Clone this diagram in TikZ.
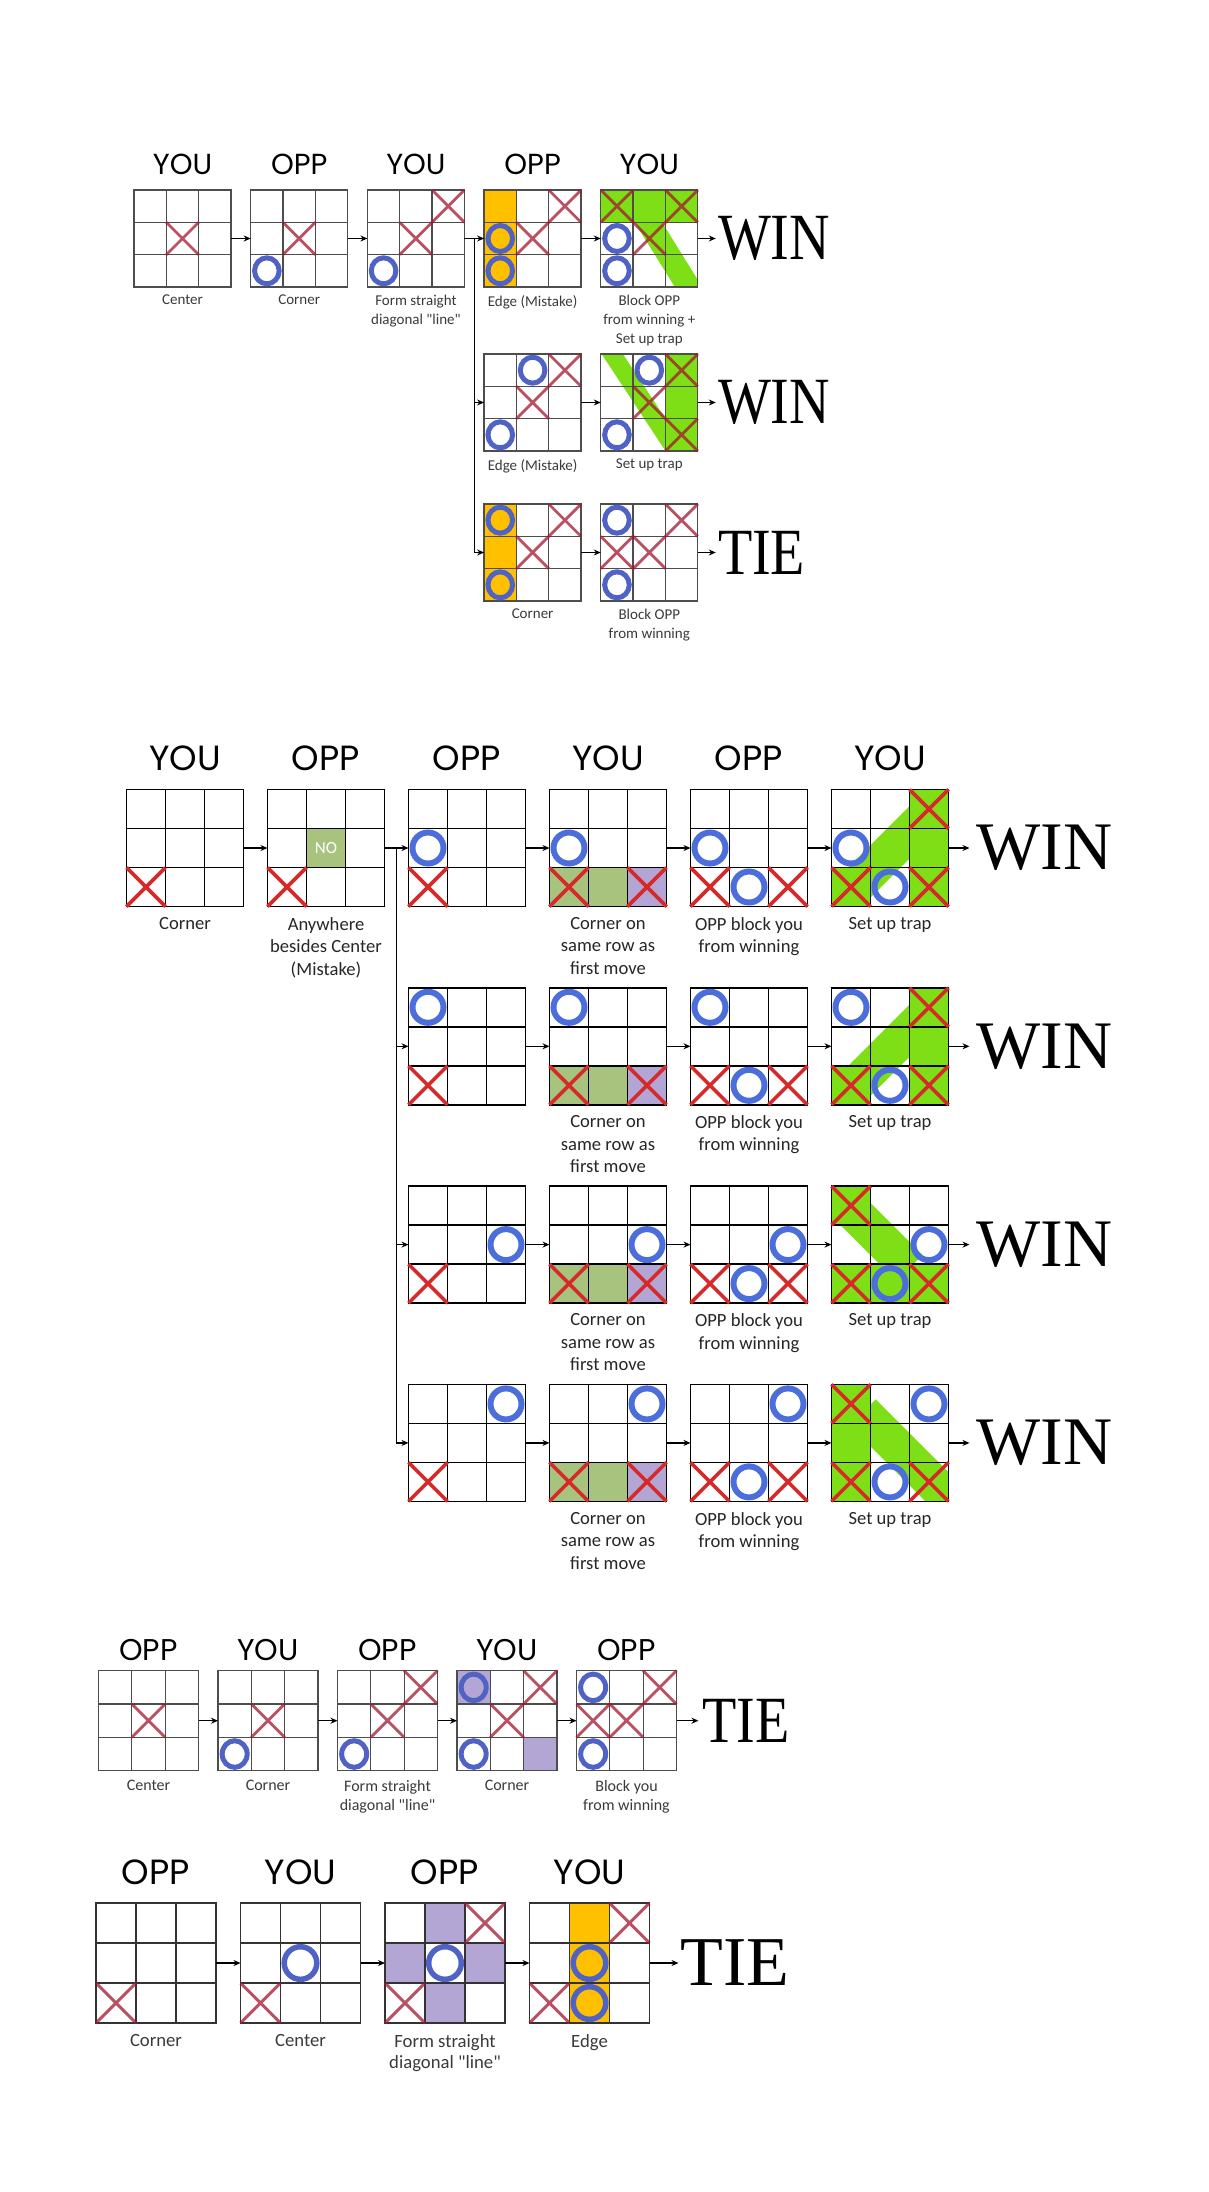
\documentclass[tikz,border=0pt]{standalone}
\usepackage{fontspec}
\usetikzlibrary{arrows.meta,positioning,calc,backgrounds}
\newfontfamily\turnfont{Poppins}
\newfontfamily\notefont{Carlito}
\newfontfamily\wordfont{Liberation Serif}
\newfontfamily\narrowfont{Liberation Serif}[FakeStretch=0.85]
\definecolor{gridgray}{HTML}{4D4D4D}
\definecolor{xmuted}{HTML}{A3172D}
\definecolor{omuted}{HTML}{5063C4}
\definecolor{xred}{HTML}{D62A2A}
\definecolor{oblue}{HTML}{4C6EDB}
\definecolor{trapgreen}{HTML}{7EDF17}
\definecolor{mossgreen}{HTML}{A8C37E}
\definecolor{lilac}{HTML}{B3A6D4}
\definecolor{amber}{HTML}{FFC000}
\definecolor{notegray}{HTML}{3A3A3A}

% a 3x3 board: framed node plus its four inner lines
\newcommand{\board}[2]{%
  \node[board, #2] (#1) {};
  \draw[gridline]
    ($(#1.north west)!1/3!(#1.north east)$) -- ($(#1.south west)!1/3!(#1.south east)$)
    ($(#1.north west)!2/3!(#1.north east)$) -- ($(#1.south west)!2/3!(#1.south east)$)
    ($(#1.north west)!1/3!(#1.south west)$) -- ($(#1.north east)!1/3!(#1.south east)$)
    ($(#1.north west)!2/3!(#1.south west)$) -- ($(#1.north east)!2/3!(#1.south east)$);}
% marks in a cell: board, column, row (counted from the top left)
\newcommand{\xmark}[3]{%
  \draw[xline] ($(#1.north west)+({(#2-1)*\cs},{-(#3-1)*\cs})$) -- ++(\cs,-\cs)
               ($(#1.north west)+({#2*\cs},{-(#3-1)*\cs})$) -- ++(-\cs,-\cs);}
\newcommand{\omark}[3]{%
  \draw[oline] ($(#1.north west)+({(#2-0.5)*\cs},{-(#3-0.5)*\cs})$) ellipse[x radius=\orx, y radius=\ory];}
\newcommand{\cellfill}[4]{%
  \begin{pgfonlayer}{background}
    \fill[#4] ($(#1.north west)+({(#2-1)*\cs},{-(#3-1)*\cs})$) rectangle ++(\cs,-\cs);
  \end{pgfonlayer}}
% green band of a trap: board, from (x,y) to (x,y) in cells, width in cells
\newcommand{\trapband}[6]{%
  \begin{pgfonlayer}{background}
    \begin{scope}
      \clip (#1.north west) rectangle (#1.south east);
      \draw[trapgreen, line width={(#6)*\cs}]
        ($(#1.north west)+({(#2)*\cs},{-(#3)*\cs})$) -- ($(#1.north west)+({(#4)*\cs},{-(#5)*\cs})$);
    \end{scope}
  \end{pgfonlayer}}

\begin{document}
\begin{tikzpicture}[
  x=1pt, y=1pt,
  flow/.style={-{Stealth[length=7pt, width=6pt]}, line width=1.4pt, color=black},
  board/.style={draw, inner sep=0pt, outer sep=0pt},
  turn/.style={inner sep=0pt, text=black},
  note/.style={align=center, inner sep=0pt},
  word/.style={inner ysep=0pt, text=black},
]
\useasboundingbox (0,0) rectangle (1208,-2192);

% ================= game 1: you open in the centre =================
\begin{scope}[
  board/.append style={draw=gridgray, line width=1.3pt, minimum size=97pt},
  gridline/.style={draw=gridgray, line width=1.3pt},
  xline/.style={draw=xmuted, line width=2.8pt, opacity=.75},
  oline/.style={draw=omuted, line width=5pt},
  turn/.append style={font=\turnfont\fontsize{29}{32}\selectfont},
  note/.append style={font=\notefont\fontsize{15}{19}\selectfont, text=notegray},
  word/.append style={font=\narrowfont\fontsize{66}{70}\selectfont, inner xsep=2pt},
]
\def\cs{32.33}\def\orx{12.3}\def\ory{13}
% ---- boards ----
\board{t1}{at={(182.5,-238.5)}}
\board{t2}{right=19.7pt of t1}
\board{t3}{right=19.7pt of t2}
\board{t4}{right=19.7pt of t3}
\board{t5}{right=19.7pt of t4}
\board{t4b}{below=67pt of t4}
\board{t5b}{right=19.7pt of t4b}
\board{t4c}{below=53pt of t4b}
\board{t5c}{right=19.7pt of t4c}

% ---- moves ----
\xmark{t1}{2}{2}
\xmark{t2}{2}{2} \omark{t2}{1}{3}
\xmark{t3}{2}{2} \xmark{t3}{3}{1} \omark{t3}{1}{3}
\cellfill{t4}{1}{1}{amber} \cellfill{t4}{1}{2}{amber} \cellfill{t4}{1}{3}{amber}
\xmark{t4}{2}{2} \xmark{t4}{3}{1} \omark{t4}{1}{2} \omark{t4}{1}{3}
\cellfill{t5}{1}{1}{trapgreen} \cellfill{t5}{2}{1}{trapgreen} \cellfill{t5}{3}{1}{trapgreen}
\trapband{t5}{0.85}{0}{2.9}{3.3}{0.72}
\xmark{t5}{1}{1} \xmark{t5}{3}{1} \xmark{t5}{2}{2} \omark{t5}{1}{2} \omark{t5}{1}{3}
% second branch: edge
\omark{t4b}{2}{1} \xmark{t4b}{3}{1} \xmark{t4b}{2}{2} \omark{t4b}{1}{3}
\cellfill{t5b}{3}{1}{trapgreen} \cellfill{t5b}{3}{2}{trapgreen} \cellfill{t5b}{3}{3}{trapgreen}
\trapband{t5b}{0.09}{-0.4}{2.66}{3.5}{0.55}
\omark{t5b}{2}{1} \xmark{t5b}{3}{1} \xmark{t5b}{2}{2} \xmark{t5b}{3}{3} \omark{t5b}{1}{3}
% third branch: corner
\cellfill{t4c}{1}{1}{amber} \cellfill{t4c}{1}{2}{amber} \cellfill{t4c}{1}{3}{amber}
\omark{t4c}{1}{1} \xmark{t4c}{3}{1} \xmark{t4c}{2}{2} \omark{t4c}{1}{3}
\omark{t5c}{1}{1} \xmark{t5c}{3}{1} \xmark{t5c}{1}{2} \xmark{t5c}{2}{2} \omark{t5c}{1}{3}

% ---- whose turn ----
\node[turn, above=15pt of t1] (t1who) {YOU};
\node[turn, above=15pt of t2] (t2who) {OPP};
\node[turn, above=15pt of t3] (t3who) {YOU};
\node[turn, above=15pt of t4] (t4who) {OPP};
\node[turn, above=15pt of t5] (t5who) {YOU};

% ---- notes ----
\node[note, below=8pt of t1] (t1note) {Center};
\node[note, below=8pt of t2] (t2note) {Corner};
\node[note, below=8pt of t3] (t3note) {Form straight\\diagonal "line"};
\node[note, below=8pt of t4] (t4note) {Edge (Mistake)};
\node[note, below=8pt of t5] (t5note) {Block OPP\\from winning +\\Set up trap};
\node[note, below=8pt of t4b] (t4bnote) {Edge (Mistake)};
\node[note, below=8pt of t5b] (t5bnote) {Set up trap};
\node[note, below=8pt of t4c] (t4cnote) {Corner};
\node[note, below=8pt of t5c] (t5cnote) {Block OPP\\from winning};

% ---- results ----
\node[word, right=18pt of t5] (t5end) {WIN};
\node[word, right=18pt of t5b] (t5bend) {WIN};
\node[word, right=18pt of t5c] (t5cend) {TIE};

% ---- arrows ----
\coordinate (topfork) at ($(t3.east)!0.5!(t4.west)$);
\draw[flow] (t1) -- (t2);
\draw[flow] (t2) -- (t3);
\draw[flow] (t3) -- (t4);
\draw[flow] (t4) -- (t5);
\draw[flow] (topfork) |- (t4b);
\draw[flow] (topfork) |- (t4c);
\draw[flow] (t4b) -- (t5b);
\draw[flow] (t4c) -- (t5c);
\draw[flow] (t5) -- (t5end);
\draw[flow] (t5b) -- (t5bend);
\draw[flow] (t5c) -- (t5cend);
\end{scope}

% ================= game 2: you open in a corner =================
\begin{scope}[
  board/.append style={draw=black, line width=1.6pt, minimum size=117pt},
  gridline/.style={draw=black, line width=1.6pt},
  xline/.style={draw=xred, line width=3.6pt},
  oline/.style={draw=oblue, line width=6pt},
  turn/.append style={font=\turnfont\fontsize{35}{38}\selectfont},
  note/.append style={font=\notefont\fontsize{18.6}{22.5}\selectfont, text=black!85},
  word/.append style={font=\wordfont\fontsize{68}{72}\selectfont, inner xsep=7pt},
]
\def\cs{39}\def\orx{15.5}\def\ory{15.5}
% ---- boards ----
\board{m1}{at={(185,-848)}}
\board{m2}{right=24pt of m1}
\board{m3a}{right=24pt of m2}
\board{m3b}{below=81.3pt of m3a}
\board{m3c}{below=81.3pt of m3b}
\board{m3d}{below=81.3pt of m3c}
\foreach \rw in {a,b,c,d} {
  \board{m4\rw}{right=24pt of m3\rw}
  \board{m5\rw}{right=24pt of m4\rw}
  \board{m6\rw}{right=24pt of m5\rw}
}

% ---- moves ----
\xmark{m1}{1}{3}
\cellfill{m2}{2}{2}{mossgreen}
\node[font=\notefont\fontsize{17}{17}\selectfont, text=white] (m2no)
  at ($(m2.north west)+({1.5*\cs},{-1.5*\cs})$) {NO};
\xmark{m2}{1}{3}
% same moves in all four lines
\foreach \rw/\oc/\orow in {a/1/2, b/1/1, c/3/2, d/3/1} {
  \foreach \st in {3,4,5,6} {\xmark{m\st\rw}{1}{3} \omark{m\st\rw}{\oc}{\orow}}
  \foreach \st in {4,5,6} {\xmark{m\st\rw}{3}{3}}
  \foreach \st in {5,6} {\omark{m\st\rw}{2}{3}}
  \cellfill{m4\rw}{1}{3}{mossgreen} \cellfill{m4\rw}{2}{3}{mossgreen} \cellfill{m4\rw}{3}{3}{lilac}
}
% traps
\foreach \rw in {a,b} {
  \cellfill{m6\rw}{3}{1}{trapgreen} \cellfill{m6\rw}{3}{2}{trapgreen}
  \cellfill{m6\rw}{3}{3}{trapgreen} \cellfill{m6\rw}{1}{3}{trapgreen}
  \trapband{m6\rw}{-0.5}{3.6}{2.6}{0.5}{0.95}
  \xmark{m6\rw}{3}{1}
}
\cellfill{m6c}{1}{1}{trapgreen} \cellfill{m6c}{1}{3}{trapgreen}
\cellfill{m6c}{2}{3}{trapgreen} \cellfill{m6c}{3}{3}{trapgreen}
\trapband{m6c}{-0.5}{-0.4}{2.0}{2.1}{0.95}
\xmark{m6c}{1}{1}
\cellfill{m6d}{1}{1}{trapgreen} \cellfill{m6d}{1}{2}{trapgreen} \cellfill{m6d}{1}{3}{trapgreen}
\trapband{m6d}{0.8}{0.72}{3.5}{3.42}{0.95}
\xmark{m6d}{1}{1}

% ---- whose turn ----
\node[turn, above=18.7pt of m1] (m1who) {YOU};
\node[turn, above=18.7pt of m2] (m2who) {OPP};
\node[turn, above=18.7pt of m3a] (m3who) {OPP};
\node[turn, above=18.7pt of m4a] (m4who) {YOU};
\node[turn, above=18.7pt of m5a] (m5who) {OPP};
\node[turn, above=18.7pt of m6a] (m6who) {YOU};

% ---- notes, results, arrows ----
\node[note, below=10.5pt of m1] (m1note) {Corner};
\node[note, below=10.5pt of m2] (m2note) {Anywhere\\besides Center\\(Mistake)};
\coordinate (midfork) at ($(m2.east)!0.5!(m3a.west)$);
\draw[flow] (m1) -- (m2);
\draw[flow] (m2) -- (m3a);
\foreach \rw in {b,c,d} {\draw[flow] (midfork) |- (m3\rw);}
\foreach \rw in {a,b,c,d} {
  \node[note, below=10.5pt of m4\rw] (note4\rw) {Corner on\\same row as\\first move};
  \node[note, below=10.5pt of m5\rw] (note5\rw) {OPP block you\\from winning};
  \node[note, below=10.5pt of m6\rw] (note6\rw) {Set up trap};
  \node[word, right=21pt of m6\rw] (mwin\rw) {WIN};
  \draw[flow] (m3\rw) -- (m4\rw);
  \draw[flow] (m4\rw) -- (m5\rw);
  \draw[flow] (m5\rw) -- (m6\rw);
  \draw[flow] (m6\rw) -- (mwin\rw);
}
\end{scope}

% ================= game 3: opponent opens in the centre =================
\begin{scope}[
  board/.append style={draw=gridgray, line width=1.3pt, minimum size=100pt},
  gridline/.style={draw=gridgray, line width=1.3pt},
  xline/.style={draw=xmuted, line width=2.8pt, opacity=.75},
  oline/.style={draw=omuted, line width=5pt},
  turn/.append style={font=\turnfont\fontsize{30}{33}\selectfont},
  note/.append style={font=\notefont\fontsize{16}{19}\selectfont, text=notegray},
  word/.append style={font=\narrowfont\fontsize{66}{70}\selectfont, inner xsep=4pt},
]
\def\cs{33.33}\def\orx{12.5}\def\ory{13.3}
\board{p1}{at={(148.5,-1720.7)}}
\board{p2}{right=19.5pt of p1}
\board{p3}{right=19.5pt of p2}
\board{p4}{right=19.5pt of p3}
\board{p5}{right=19.5pt of p4}

\xmark{p1}{2}{2}
\xmark{p2}{2}{2} \omark{p2}{1}{3}
\xmark{p3}{2}{2} \xmark{p3}{3}{1} \omark{p3}{1}{3}
\cellfill{p4}{1}{1}{lilac} \cellfill{p4}{3}{3}{lilac}
\omark{p4}{1}{1} \xmark{p4}{3}{1} \xmark{p4}{2}{2} \omark{p4}{1}{3}
\omark{p5}{1}{1} \xmark{p5}{3}{1} \xmark{p5}{1}{2} \xmark{p5}{2}{2} \omark{p5}{1}{3}

\node[turn, above=10.2pt of p1] (p1who) {OPP};
\node[turn, above=10.2pt of p2] (p2who) {YOU};
\node[turn, above=10.2pt of p3] (p3who) {OPP};
\node[turn, above=10.2pt of p4] (p4who) {YOU};
\node[turn, above=10.2pt of p5] (p5who) {OPP};

\node[note, below=9.5pt of p1] (p1note) {Center};
\node[note, below=9.5pt of p2] (p2note) {Corner};
\node[note, below=9.5pt of p3] (p3note) {Form straight\\diagonal "line"};
\node[note, below=9.5pt of p4] (p4note) {Corner};
\node[note, below=9.5pt of p5] (p5note) {Block you\\from winning};

\node[word, right=22pt of p5] (pend) {TIE};
\draw[flow] (p1) -- (p2);
\draw[flow] (p2) -- (p3);
\draw[flow] (p3) -- (p4);
\draw[flow] (p4) -- (p5);
\draw[flow] (p5) -- (pend);
\end{scope}

% ================= game 4: opponent opens in a corner =================
\begin{scope}[
  board/.append style={draw=black!80, line width=1.5pt, minimum size=120pt},
  gridline/.style={draw=black!80, line width=1.5pt},
  xline/.style={draw=xmuted, line width=3pt, opacity=.75},
  oline/.style={draw=omuted, line width=5.5pt},
  turn/.append style={font=\turnfont\fontsize{35}{38}\selectfont},
  note/.append style={font=\notefont\fontsize{18.7}{21.5}\selectfont, text=notegray},
  word/.append style={font=\wordfont\fontsize{70}{74}\selectfont, inner xsep=2pt},
]
\def\cs{40}\def\orx{16.3}\def\ory{16.3}
\board{q1}{at={(156,-1963)}}
\board{q2}{right=24.5pt of q1}
\board{q3}{right=24.5pt of q2}
\board{q4}{right=24.5pt of q3}

\xmark{q1}{1}{3}
\xmark{q2}{1}{3} \omark{q2}{2}{2}
\cellfill{q3}{2}{1}{lilac} \cellfill{q3}{1}{2}{lilac} \cellfill{q3}{3}{2}{lilac} \cellfill{q3}{2}{3}{lilac}
\xmark{q3}{3}{1} \omark{q3}{2}{2} \xmark{q3}{1}{3}
\cellfill{q4}{2}{1}{amber} \cellfill{q4}{2}{2}{amber} \cellfill{q4}{2}{3}{amber}
\xmark{q4}{3}{1} \omark{q4}{2}{2} \omark{q4}{2}{3} \xmark{q4}{1}{3}

\node[turn, above=17.7pt of q1] (q1who) {OPP};
\node[turn, above=17.7pt of q2] (q2who) {YOU};
\node[turn, above=17.7pt of q3] (q3who) {OPP};
\node[turn, above=17.7pt of q4] (q4who) {YOU};

\node[note, below=11pt of q1] (q1note) {Corner};
\node[note, below=11pt of q2] (q2note) {Center};
\node[note, below=11pt of q3] (q3note) {Form straight\\diagonal "line"};
\node[note, below=11pt of q4] (q4note) {Edge};

\node[word, right=29pt of q4] (qend) {TIE};
\draw[flow] (q1) -- (q2);
\draw[flow] (q2) -- (q3);
\draw[flow] (q3) -- (q4);
\draw[flow] (q4) -- (qend);
\end{scope}
\end{tikzpicture}
\end{document}
